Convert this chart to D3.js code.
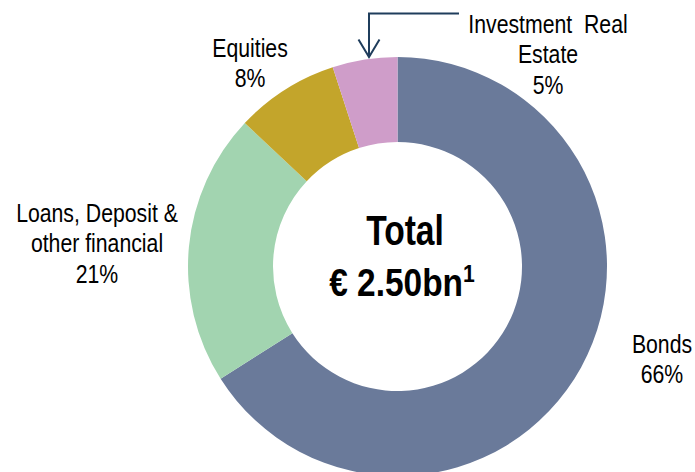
<!DOCTYPE html>
<html>
<head>
<meta charset="utf-8">
<script src="https://cdn.jsdelivr.net/npm/d3@7"></script>
<style>
  body { margin: 0; background: #fff; }
  text { font-family: "Liberation Sans", Arial, sans-serif; }
</style>
</head>
<body>
<div id="chart"></div>
<script>
// Chart data
const categories = ['Bonds', 'Loans, Deposit & other financial', 'Equities', 'Investment Real Estate'];
const shares = [66, 21, 8, 5];
const colors = ['#6a7a9a', '#a2d4b0', '#c3a52b', '#cf9dc9'];

const width = 695;
const height = 472;

// Donut geometry
const cx = 397.5;
const cy = 266.5;
const outerR = 209.5;
const innerR = 124.5;

// the original uses a narrow face, so squeeze the text horizontally
const narrow = 0.85;

const svg = d3
  .select('#chart')
  .append('svg')
  .attr('width', width)
  .attr('height', height);

const pieData = d3.pie().sort(null).value(d => d)(shares);
const arc = d3.arc().innerRadius(innerR).outerRadius(outerR);

const g = svg.append('g').attr('transform', `translate(${cx},${cy})`);

g.selectAll('path')
  .data(pieData)
  .enter()
  .append('path')
  .attr('d', arc)
  .attr('fill', (d, i) => colors[i]);

// Labels (lines split the way the original wraps them)
const labelLines = [
  ['Bonds', shares[0] + '%'],
  ['Loans, Deposit &', 'other financial', shares[1] + '%'],
  ['Equities', shares[2] + '%'],
  ['Investment  Real', 'Estate', shares[3] + '%']
];
const labelPos = [
  { x: 662, y: 353 },
  { x: 97, y: 222 },
  { x: 250, y: 57 },
  { x: 548, y: 33 }
];
const lineGap = 30.5;

labelLines.forEach((lines, i) => {
  const t = svg.append('g')
    .attr('transform', `translate(${labelPos[i].x},${labelPos[i].y}) scale(${narrow},1)`)
    .append('text')
    .attr('text-anchor', 'middle')
    .attr('font-size', '25px')
    .attr('fill', '#000');
  lines.forEach((line, j) => {
    t.append('tspan')
      .attr('x', 0)
      .attr('y', j * lineGap)
      .style('white-space', 'pre')
      .text(line);
  });
});

// Arrow pointing to the small real estate slice
svg.append('polyline')
  .attr('points', '459,13.5 369,13.5 369,56')
  .attr('fill', 'none')
  .attr('stroke', '#1f3d5c')
  .attr('stroke-width', 2);
svg.append('polyline')
  .attr('points', '358.5,39.5 369,57 379.5,39.5')
  .attr('fill', 'none')
  .attr('stroke', '#1f3d5c')
  .attr('stroke-width', 2);

// Centre total
svg.append('g')
  .attr('transform', `translate(405,245) scale(0.8,1)`)
  .append('text')
  .attr('text-anchor', 'middle')
  .attr('font-size', '42px')
  .attr('font-weight', 'bold')
  .text('Total');

const total = svg.append('g')
  .attr('transform', `translate(402,296) scale(0.88,1)`)
  .append('text')
  .attr('text-anchor', 'middle')
  .attr('font-size', '38px')
  .attr('font-weight', 'bold');
total.append('tspan').text('€ 2.50bn');
total.append('tspan')
  .attr('font-size', '24px')
  .attr('dy', -14)
  .text('1');
</script>
</body>
</html>
